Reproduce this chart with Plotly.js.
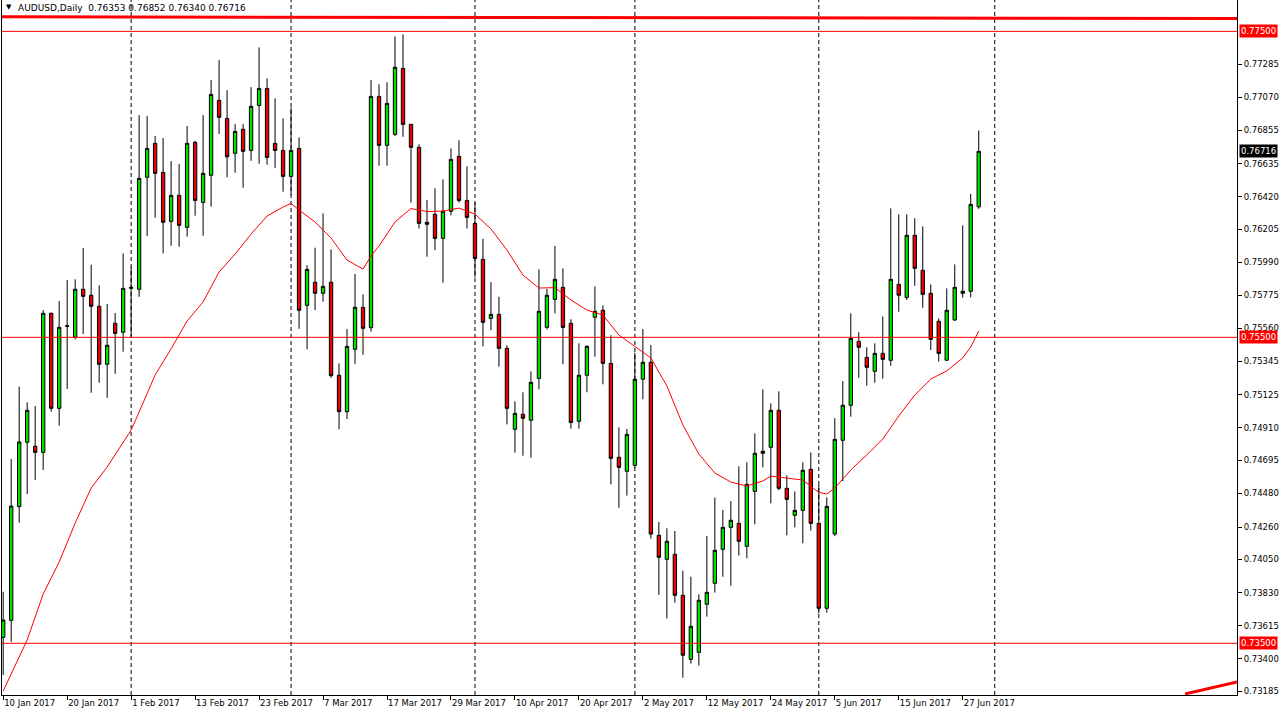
<!DOCTYPE html>
<html><head><meta charset="utf-8">
<script src="https://cdn.plot.ly/plotly-3.0.1.min.js"></script>
<style>html,body{margin:0;padding:0;background:#fff;}#chart{width:1283px;height:715px;}</style>
</head><body><div id="chart"></div>
<script>
// AUDUSD daily OHLC, bar 0 = 10 Jan 2017 ... bar 122 = last bar
const openP = [0.73539,0.73650,0.74393,0.74814,0.74788,0.74748,0.75657,0.75036,0.75572,0.75500,
0.75814,0.75775,0.75703,0.75324,0.75592,0.75533,0.75820,0.75814,0.76546,0.76768,
0.76578,0.76258,0.76428,0.76219,0.76775,0.76382,0.76559,0.77049,0.76931,0.76703,
0.76860,0.76722,0.77016,0.77127,0.76768,0.76722,0.76552,0.76735,0.75709,0.75860,
0.75788,0.75860,0.75252,0.75014,0.75422,0.75696,0.75563,0.77075,0.76755,0.76827,
0.77258,0.76892,0.76742,0.76252,0.76304,0.76147,0.76324,0.76683,0.76395,0.76245,
0.76010,0.75624,0.75650,0.75428,0.74899,0.74997,0.74958,0.75232,0.75565,0.75748,
0.75827,0.75592,0.74951,0.75252,0.75631,0.75677,0.75330,0.74716,0.74624,0.74663,
0.75226,0.75337,0.74206,0.74049,0.74082,0.73814,0.73395,0.73441,0.73755,0.73892,
0.74114,0.74258,0.74284,0.74134,0.74493,0.74755,0.74781,0.75023,0.74513,0.74337,
0.74369,0.74637,0.74284,0.73729,0.74214,0.74827,0.75056,0.75474,0.75369,0.75278,
0.75395,0.75350,0.75846,0.75761,0.76167,0.75938,0.75788,0.75605,0.75350,0.75613,
0.75788,0.75801,0.76353];
const highP = [0.73837,0.74705,0.75177,0.75075,0.75051,0.75678,0.75661,0.75737,0.75875,0.75879,
0.76084,0.75975,0.75840,0.75718,0.75659,0.76049,0.75961,0.76953,0.76946,0.76816,
0.76803,0.76652,0.76633,0.76881,0.76785,0.76953,0.77182,0.77312,0.77116,0.76894,
0.76894,0.77136,0.77395,0.77193,0.77062,0.76931,0.77003,0.76807,0.75971,0.76086,
0.76310,0.76075,0.75330,0.75554,0.75914,0.75781,0.77182,0.77154,0.77167,0.77467,
0.77480,0.76894,0.76761,0.76397,0.76474,0.76533,0.76735,0.76788,0.76618,0.76382,
0.76144,0.75861,0.75765,0.75448,0.75082,0.75141,0.75278,0.75944,0.75816,0.76097,
0.75951,0.75618,0.75461,0.75448,0.75833,0.75709,0.75513,0.74912,0.74901,0.75399,
0.75554,0.75450,0.74293,0.74252,0.74234,0.73974,0.73935,0.73820,0.74201,0.74452,
0.74371,0.74430,0.74657,0.74683,0.74873,0.75160,0.75069,0.75147,0.74598,0.74493,
0.74683,0.74748,0.74535,0.74454,0.74971,0.75214,0.75657,0.75533,0.75435,0.75461,
0.75637,0.76343,0.76304,0.76304,0.76278,0.76225,0.75846,0.75624,0.75820,0.75977,
0.76232,0.76437,0.76852];
const lowP = [0.73293,0.73510,0.74288,0.74476,0.74567,0.74633,0.75014,0.74922,0.75162,0.75487,
0.75522,0.75138,0.75203,0.75105,0.75262,0.75406,0.75504,0.75765,0.76162,0.76282,
0.76049,0.76099,0.76092,0.76158,0.76295,0.76164,0.76354,0.76829,0.76546,0.76576,
0.76478,0.76654,0.76635,0.76628,0.76608,0.76452,0.76430,0.75556,0.75422,0.75678,
0.75733,0.75236,0.74899,0.74966,0.75326,0.75386,0.75537,0.76622,0.76622,0.76816,
0.76811,0.76380,0.76212,0.76027,0.76069,0.75857,0.76297,0.76380,0.76212,0.75892,
0.75441,0.75546,0.75308,0.74931,0.74746,0.74726,0.74713,0.75160,0.75552,0.75657,
0.75324,0.74903,0.74903,0.75141,0.75373,0.75193,0.74539,0.74386,0.74465,0.74646,
0.75095,0.74184,0.73816,0.73663,0.73765,0.73275,0.73367,0.73354,0.73674,0.73831,
0.73935,0.73876,0.74073,0.74056,0.74278,0.74650,0.74415,0.74500,0.74206,0.74258,
0.74154,0.74236,0.73696,0.73700,0.74200,0.74559,0.74981,0.75236,0.75184,0.75203,
0.75229,0.75314,0.75667,0.75744,0.75837,0.75693,0.75417,0.75341,0.75350,0.75609,
0.75759,0.75761,0.76340];
const closeP = [0.73652,0.74397,0.74816,0.75023,0.74748,0.75657,0.75036,0.75565,0.75575,0.75814,
0.75768,0.75703,0.75324,0.75448,0.75526,0.75820,0.75826,0.76539,0.76735,0.76572,
0.76252,0.76428,0.76232,0.76768,0.76395,0.76572,0.77088,0.76938,0.76680,0.76846,
0.76716,0.77010,0.77127,0.76676,0.76722,0.76552,0.76722,0.75677,0.75944,0.75788,
0.75833,0.75249,0.75014,0.75441,0.75696,0.75559,0.77075,0.76755,0.77029,0.77265,
0.76892,0.76742,0.76245,0.76239,0.76147,0.76324,0.76663,0.76395,0.76284,0.76016,
0.75598,0.75650,0.75428,0.75036,0.75003,0.74971,0.75206,0.75670,0.75775,0.75879,
0.75565,0.74944,0.75252,0.75441,0.75670,0.75330,0.74709,0.74650,0.74866,0.75226,
0.75337,0.74214,0.74062,0.74167,0.73814,0.73422,0.73611,0.73781,0.73833,0.74108,
0.74258,0.74304,0.74167,0.74539,0.74742,0.74742,0.75023,0.74513,0.74441,0.74369,
0.74631,0.74284,0.73729,0.74395,0.74833,0.75056,0.75493,0.75435,0.75304,0.75395,
0.75356,0.75879,0.75775,0.76167,0.75951,0.75781,0.75487,0.75395,0.75677,0.75827,
0.75801,0.76369,0.76716];

// moving average readings (bar index, value)
const maBars = [0,3,5,7,9,11,13,15,16,17,19,21,23,25,27,29,31,33,35,36,37,39,41,43,45,46,47,49,51,53,55,57,59,61,63,65,67,69,71,73,75,77,79,81,83,85,87,89,91,93,95,96,98,100,102,103,104,106,108,110,112,114,116,118,120,121,122];
const maValues = [0.73188,0.73522,0.73822,0.74031,0.74286,0.74515,0.74652,0.74809,0.74894,0.75012,
0.75254,0.75425,0.75607,0.75731,0.75927,0.76044,0.76175,0.76293,0.76352,0.76375,
0.76332,0.76254,0.76149,0.76005,0.75946,0.76031,0.76097,0.76254,0.76342,0.76322,
0.76325,0.76345,0.76306,0.76208,0.76071,0.75907,0.75822,0.75825,0.75744,0.75678,
0.75646,0.75515,0.75437,0.75365,0.75182,0.74927,0.74737,0.74613,0.74554,0.74528,
0.74561,0.74593,0.74580,0.74567,0.74486,0.74476,0.74515,0.74633,0.74731,0.74835,
0.74986,0.75123,0.75227,0.75280,0.75365,0.75437,0.75541];

const dateTickBars = [0,8,16,24,32,40,48,56,64,72,80,88,96,104,112,120];
const dateTickLabels = ["10 Jan 2017","20 Jan 2017","1 Feb 2017","13 Feb 2017","23 Feb 2017","7 Mar 2017",
"17 Mar 2017","29 Mar 2017","10 Apr 2017","20 Apr 2017","2 May 2017","12 May 2017","24 May 2017",
"5 Jun 2017","15 Jun 2017","27 Jun 2017"];
const priceTicks = [0.77285,0.77070,0.76855,0.76635,0.76420,0.76205,0.75990,0.75775,0.75560,0.75345,
0.75125,0.74910,0.74695,0.74480,0.74260,0.74050,0.73830,0.73615,0.73400,0.73185];
const monthStartBars = [16,36,59,79,102,124];
const levels = [0.77500,0.75500,0.73500];
const topTrend = {x:[-0.15,154.3], y:[0.77595,0.77584]};
const lowTrend = {x:[147.8,154.3], y:[0.73169,0.73247]};
const header = {symbol:"AUDUSD,Daily", o:"0.76353", h:"0.76852", l:"0.76340", c:"0.76716"};

const FONT = "DejaVu Sans";
const bars = openP.map((_, i) => i);

const traces = [
  {type:'candlestick', x:bars, open:openP, high:highP, low:lowP, close:closeP,
   increasing:{line:{color:'#000000', width:1}, fillcolor:'#00e000'},
   decreasing:{line:{color:'#000000', width:1}, fillcolor:'#ee0000'},
   whiskerwidth:0, hoverinfo:'skip', showlegend:false},
  {type:'scatter', mode:'lines', x:maBars, y:maValues, line:{color:'#ff0000', width:1},
   hoverinfo:'skip', showlegend:false}
];

const shapes = [];
monthStartBars.forEach(b => shapes.push({type:'line', xref:'x', yref:'paper', x0:b, x1:b, y0:0, y1:1,
  line:{color:'#000000', width:1, dash:'4px,3px'}, layer:'below'}));
levels.forEach(v => shapes.push({type:'line', xref:'paper', yref:'y', x0:0, x1:1, y0:v, y1:v,
  line:{color:'#ff0000', width:1}}));
shapes.push({type:'line', xref:'x', yref:'y', x0:topTrend.x[0], x1:topTrend.x[1], y0:topTrend.y[0], y1:topTrend.y[1],
  line:{color:'#ff0000', width:3}});
shapes.push({type:'line', xref:'x', yref:'y', x0:lowTrend.x[0], x1:lowTrend.x[1], y0:lowTrend.y[0], y1:lowTrend.y[1],
  line:{color:'#ff0000', width:3}});

const annotations = [];
levels.forEach(v => annotations.push({xref:'paper', yref:'y', x:1, y:v, xanchor:'left', yanchor:'middle',
  xshift:2, text:v.toFixed(5), showarrow:false, bgcolor:'#ff0000', borderpad:1,
  font:{family:FONT, size:8.5, color:'#ffffff'}}));
annotations.push({xref:'paper', yref:'y', x:1, y:closeP[closeP.length-1], xanchor:'left', yanchor:'middle',
  xshift:2, text:closeP[closeP.length-1].toFixed(5), showarrow:false, bgcolor:'#000000', borderpad:1,
  font:{family:FONT, size:8.5, color:'#ffffff'}});
annotations.push({xref:'paper', yref:'paper', x:0, y:1, xanchor:'left', yanchor:'top', xshift:2, yshift:-1,
  text:'▼', showarrow:false, font:{family:FONT, size:7, color:'#000000'}});
annotations.push({xref:'paper', yref:'paper', x:0, y:1, xanchor:'left', yanchor:'top', xshift:14, yshift:-1,
  text:header.symbol + '  ' + header.o + ' ' + header.h + ' ' + header.l + ' ' + header.c,
  showarrow:false, font:{family:FONT, size:9, color:'#000000'}});

const layout = {
  width:1283, height:715,
  margin:{l:2, r:46, t:0, b:20, pad:0},
  paper_bgcolor:'#ffffff', plot_bgcolor:'#ffffff',
  showlegend:false, hovermode:false, boxgap:0.4,
  font:{family:FONT, size:8.5, color:'#000000'},
  xaxis:{range:[-0.15,154.3], showgrid:false, zeroline:false, showline:true, linecolor:'#000000', linewidth:1,
    ticks:'outside', ticklen:4, tickcolor:'#000000', tickvals:dateTickBars, ticktext:dateTickLabels,
    ticklabelposition:'outside right', tickangle:0, tickfont:{family:FONT, size:8.5, color:'#000000'},
    rangeslider:{visible:false}, fixedrange:true},
  yaxis:{side:'right', range:[0.73162,0.77705], showgrid:false, zeroline:false, showline:true, mirror:true,
    linecolor:'#000000', linewidth:1, ticks:'outside', ticklen:4, tickcolor:'#000000',
    tickvals:priceTicks, ticktext:priceTicks.map(v => v.toFixed(5)),
    tickfont:{family:FONT, size:8.5, color:'#000000'}, fixedrange:true},
  shapes:shapes, annotations:annotations
};

Plotly.newPlot('chart', traces, layout, {displayModeBar:false, staticPlot:true});
</script></body></html>
